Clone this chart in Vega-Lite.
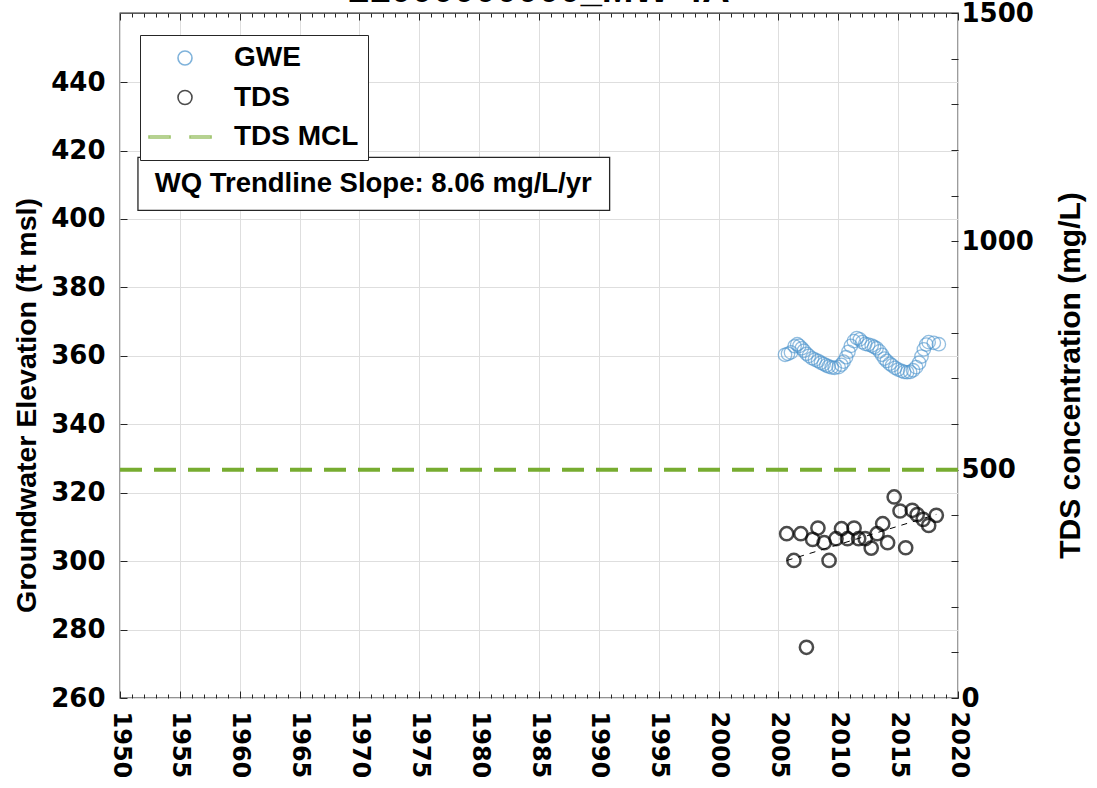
{
  "$schema": "https://vega.github.io/schema/vega-lite/v6.json",
  "autosize": {"type": "none"},
  "width": 838,
  "height": 685,
  "padding": {"left": 120, "top": 13, "right": 139, "bottom": 90},
  "background": "white",
  "config": {
    "view": {"stroke": "#262626", "strokeWidth": 1.3},
    "axis": {"domain": false, "gridColor": "#dedede", "gridWidth": 1, "tickColor": "#262626", "tickWidth": 1, "labelFont": "DejaVu Sans", "labelFontWeight": "bold", "labelColor": "black", "titleFont": "Liberation Sans", "titleFontWeight": "bold", "titleColor": "black", "labelOverlap": false}
  },
  "datasets": {
    "gwe": [
      {"year": 2005.55, "gwe": 360.3, "series": "GWE"},
      {"year": 2005.80, "gwe": 360.6, "series": "GWE"},
      {"year": 2006.05, "gwe": 361.0, "series": "GWE"},
      {"year": 2006.35, "gwe": 362.8, "series": "GWE"},
      {"year": 2006.57, "gwe": 363.4, "series": "GWE"},
      {"year": 2006.75, "gwe": 362.9, "series": "GWE"},
      {"year": 2006.95, "gwe": 362.2, "series": "GWE"},
      {"year": 2007.13, "gwe": 361.5, "series": "GWE"},
      {"year": 2007.35, "gwe": 360.6, "series": "GWE"},
      {"year": 2007.55, "gwe": 360.0, "series": "GWE"},
      {"year": 2007.82, "gwe": 359.3, "series": "GWE"},
      {"year": 2008.05, "gwe": 358.9, "series": "GWE"},
      {"year": 2008.31, "gwe": 358.5, "series": "GWE"},
      {"year": 2008.55, "gwe": 358.0, "series": "GWE"},
      {"year": 2008.78, "gwe": 357.6, "series": "GWE"},
      {"year": 2009.00, "gwe": 357.2, "series": "GWE"},
      {"year": 2009.20, "gwe": 356.9, "series": "GWE"},
      {"year": 2009.45, "gwe": 356.6, "series": "GWE"},
      {"year": 2009.70, "gwe": 356.5, "series": "GWE"},
      {"year": 2010.03, "gwe": 356.7, "series": "GWE"},
      {"year": 2010.25, "gwe": 357.4, "series": "GWE"},
      {"year": 2010.44, "gwe": 358.3, "series": "GWE"},
      {"year": 2010.65, "gwe": 359.6, "series": "GWE"},
      {"year": 2010.85, "gwe": 361.2, "series": "GWE"},
      {"year": 2011.05, "gwe": 362.9, "series": "GWE"},
      {"year": 2011.30, "gwe": 364.3, "series": "GWE"},
      {"year": 2011.55, "gwe": 365.2, "series": "GWE"},
      {"year": 2011.80, "gwe": 364.8, "series": "GWE"},
      {"year": 2012.00, "gwe": 364.0, "series": "GWE"},
      {"year": 2012.25, "gwe": 363.5, "series": "GWE"},
      {"year": 2012.50, "gwe": 363.3, "series": "GWE"},
      {"year": 2012.79, "gwe": 363.0, "series": "GWE"},
      {"year": 2013.00, "gwe": 362.6, "series": "GWE"},
      {"year": 2013.20, "gwe": 362.2, "series": "GWE"},
      {"year": 2013.45, "gwe": 361.3, "series": "GWE"},
      {"year": 2013.65, "gwe": 360.3, "series": "GWE"},
      {"year": 2013.85, "gwe": 359.2, "series": "GWE"},
      {"year": 2014.05, "gwe": 358.5, "series": "GWE"},
      {"year": 2014.30, "gwe": 357.7, "series": "GWE"},
      {"year": 2014.50, "gwe": 357.2, "series": "GWE"},
      {"year": 2014.75, "gwe": 356.5, "series": "GWE"},
      {"year": 2015.00, "gwe": 356.0, "series": "GWE"},
      {"year": 2015.28, "gwe": 355.6, "series": "GWE"},
      {"year": 2015.50, "gwe": 355.3, "series": "GWE"},
      {"year": 2015.75, "gwe": 355.2, "series": "GWE"},
      {"year": 2016.00, "gwe": 355.3, "series": "GWE"},
      {"year": 2016.25, "gwe": 355.8, "series": "GWE"},
      {"year": 2016.50, "gwe": 356.7, "series": "GWE"},
      {"year": 2016.75, "gwe": 358.0, "series": "GWE"},
      {"year": 2016.95, "gwe": 359.8, "series": "GWE"},
      {"year": 2017.15, "gwe": 361.9, "series": "GWE"},
      {"year": 2017.35, "gwe": 363.3, "series": "GWE"},
      {"year": 2017.55, "gwe": 364.0, "series": "GWE"},
      {"year": 2017.98, "gwe": 363.8, "series": "GWE"},
      {"year": 2018.40, "gwe": 363.4, "series": "GWE"}
    ],
    "tds": [
      {"year": 2005.69, "tds": 359.8, "series": "TDS"},
      {"year": 2006.29, "tds": 301.2, "series": "TDS"},
      {"year": 2006.87, "tds": 359.8, "series": "TDS"},
      {"year": 2007.34, "tds": 111.0, "series": "TDS"},
      {"year": 2007.86, "tds": 347.3, "series": "TDS"},
      {"year": 2008.30, "tds": 372.2, "series": "TDS"},
      {"year": 2008.82, "tds": 340.0, "series": "TDS"},
      {"year": 2009.23, "tds": 301.2, "series": "TDS"},
      {"year": 2009.81, "tds": 348.8, "series": "TDS"},
      {"year": 2010.27, "tds": 370.7, "series": "TDS"},
      {"year": 2010.77, "tds": 348.8, "series": "TDS"},
      {"year": 2011.32, "tds": 372.2, "series": "TDS"},
      {"year": 2011.70, "tds": 348.8, "series": "TDS"},
      {"year": 2012.25, "tds": 348.8, "series": "TDS"},
      {"year": 2012.75, "tds": 328.3, "series": "TDS"},
      {"year": 2013.24, "tds": 359.8, "series": "TDS"},
      {"year": 2013.71, "tds": 381.7, "series": "TDS"},
      {"year": 2014.12, "tds": 340.0, "series": "TDS"},
      {"year": 2014.67, "tds": 440.2, "series": "TDS"},
      {"year": 2015.16, "tds": 409.5, "series": "TDS"},
      {"year": 2015.63, "tds": 329.0, "series": "TDS"},
      {"year": 2016.18, "tds": 411.0, "series": "TDS"},
      {"year": 2016.59, "tds": 401.5, "series": "TDS"},
      {"year": 2017.09, "tds": 391.2, "series": "TDS"},
      {"year": 2017.55, "tds": 378.0, "series": "TDS"},
      {"year": 2018.19, "tds": 400.0, "series": "TDS"}
    ],
    "trend": [
      {"year": 2005.69, "tds": 301.0},
      {"year": 2018.19, "tds": 402.0}
    ],
    "mcl": [
      {"year": 1950, "tds": 500, "series": "TDS MCL"},
      {"year": 2020, "tds": 500, "series": "TDS MCL"}
    ],
    "slope": [
      {"year": 1951.5, "year2": 1990.9, "gwe": 402.5, "gwe2": 418.0}
    ],
    "slopetext": [
      {"year": 1952.9, "gwe": 410.2, "label": "WQ Trendline Slope: 8.06 mg/L/yr"}
    ],
    "titletext": [
      {"year": 1985.0, "gwe": 463.4, "label": "21000000000_MW-4A"}
    ]
  },
  "layer": [
    {
      "encoding": {
        "x": {
          "field": "year", "type": "quantitative",
          "scale": {"domain": [1950, 2020], "nice": false, "zero": false},
          "axis": {
            "orient": "bottom", "title": null, "format": "d",
            "values": [1950,1951,1952,1953,1954,1955,1956,1957,1958,1959,1960,1961,1962,1963,1964,1965,1966,1967,1968,1969,1970,1971,1972,1973,1974,1975,1976,1977,1978,1979,1980,1981,1982,1983,1984,1985,1986,1987,1988,1989,1990,1991,1992,1993,1994,1995,1996,1997,1998,1999,2000,2001,2002,2003,2004,2005,2006,2007,2008,2009,2010,2011,2012,2013,2014,2015,2016,2017,2018,2019,2020],
            "labelExpr": "datum.value % 5 === 0 ? datum.label : ''",
            "labelAngle": 90, "labelFontSize": 24, "labelPadding": 20,
            "tickSize": {"condition": {"test": "datum.value % 5 === 0", "value": -7}, "value": -4},
            "gridOpacity": {"condition": {"test": "datum.value % 5 === 0", "value": 1}, "value": 0}
          }
        },
        "y": {
          "field": "gwe", "type": "quantitative",
          "scale": {"domain": [260, 460.2], "nice": false, "zero": false},
          "axis": {
            "orient": "left", "title": "Groundwater Elevation (ft msl)",
            "values": [260, 280, 300, 320, 340, 360, 380, 400, 420, 440],
            "labelFontSize": 26, "tickSize": -7, "labelPadding": 22,
            "titleFontSize": 28.5, "titlePadding": 9, "titleY": 392
          }
        }
      },
      "layer": [
        {
          "data": {"name": "gwe"},
          "mark": {"type": "point", "filled": false, "size": 180, "strokeWidth": 1.3, "strokeOpacity": 0.85},
          "encoding": {
            "color": {
              "field": "series", "type": "nominal",
              "scale": {"domain": ["GWE", "TDS", "TDS MCL"], "range": ["#4a93cc", "#000000", "#77ac30"]},
              "legend": {
                "orient": "none", "legendX": 20, "legendY": 22, "title": null,
                "labelFont": "Liberation Sans", "labelFontWeight": "bold", "labelFontSize": 28, "labelColor": "black",
                "strokeColor": "#262626", "fillColor": "white", "padding": 9, "rowPadding": 11.5,
                "symbolSize": 196, "symbolStrokeWidth": 1.6, "symbolOffset": 22, "labelOffset": 35
              }
            },
            "shape": {
              "field": "series", "type": "nominal",
              "scale": {"domain": ["GWE", "TDS", "TDS MCL"], "range": ["circle", "circle", "M-5.14,-0.14H-2.14V0.14H-5.14ZM0.72,-0.14H3.72V0.14H0.72Z"]}
            }
          }
        },
        {
          "data": {"name": "slope"},
          "mark": {"type": "rect", "fill": "white", "stroke": "#262626", "strokeWidth": 1.3},
          "encoding": {
            "x2": {"field": "year2"},
            "y2": {"field": "gwe2"}
          }
        },
        {
          "data": {"name": "slopetext"},
          "mark": {"type": "text", "align": "left", "baseline": "middle", "font": "Liberation Sans", "fontWeight": "bold", "fontSize": 27.5, "color": "black"},
          "encoding": {
            "text": {"field": "label"}
          }
        },
        {
          "data": {"name": "titletext"},
          "mark": {"type": "text", "align": "center", "baseline": "alphabetic", "font": "Liberation Sans", "fontWeight": "bold", "fontSize": 38, "color": "black", "clip": false},
          "encoding": {
            "text": {"field": "label"}
          }
        }
      ]
    },
    {
      "encoding": {
        "x": {
          "field": "year", "type": "quantitative",
          "scale": {"domain": [1950, 2020], "nice": false, "zero": false},
          "axis": {
            "orient": "top", "title": null, "labels": false, "grid": false,
            "values": [1950,1951,1952,1953,1954,1955,1956,1957,1958,1959,1960,1961,1962,1963,1964,1965,1966,1967,1968,1969,1970,1971,1972,1973,1974,1975,1976,1977,1978,1979,1980,1981,1982,1983,1984,1985,1986,1987,1988,1989,1990,1991,1992,1993,1994,1995,1996,1997,1998,1999,2000,2001,2002,2003,2004,2005,2006,2007,2008,2009,2010,2011,2012,2013,2014,2015,2016,2017,2018,2019,2020],
            "tickSize": {"condition": {"test": "datum.value % 5 === 0", "value": -7}, "value": -4}
          }
        },
        "y": {
          "field": "tds", "type": "quantitative",
          "scale": {"domain": [0, 1500], "nice": false, "zero": false},
          "axis": {
            "orient": "right", "title": "TDS concentration (mg/L)", "grid": false, "format": "d",
            "values": [0, 100, 200, 300, 400, 500, 600, 700, 800, 900, 1000, 1100, 1200, 1300, 1400, 1500],
            "labelExpr": "datum.value % 500 === 0 ? datum.label : ''",
            "labelFontSize": 26, "tickSize": -7, "labelPadding": 10,
            "titleFontSize": 30, "titleAngle": 270, "titlePadding": 52, "titleY": 362
          }
        }
      },
      "layer": [
        {
          "data": {"name": "mcl"},
          "mark": {"type": "line", "strokeWidth": 4, "strokeDash": [22, 12]},
          "encoding": {
            "color": {"field": "series", "type": "nominal"}
          }
        },
        {
          "data": {"name": "trend"},
          "mark": {"type": "line", "strokeWidth": 1, "strokeDash": [6, 6], "color": "black"},
          "encoding": {}
        },
        {
          "data": {"name": "tds"},
          "mark": {"type": "point", "filled": false, "size": 175, "strokeWidth": 2.5},
          "encoding": {
            "color": {"field": "series", "type": "nominal"},
            "shape": {"field": "series", "type": "nominal"}
          }
        }
      ]
    }
  ],
  "resolve": {"scale": {"y": "independent"}, "axis": {"x": "independent"}}
}
